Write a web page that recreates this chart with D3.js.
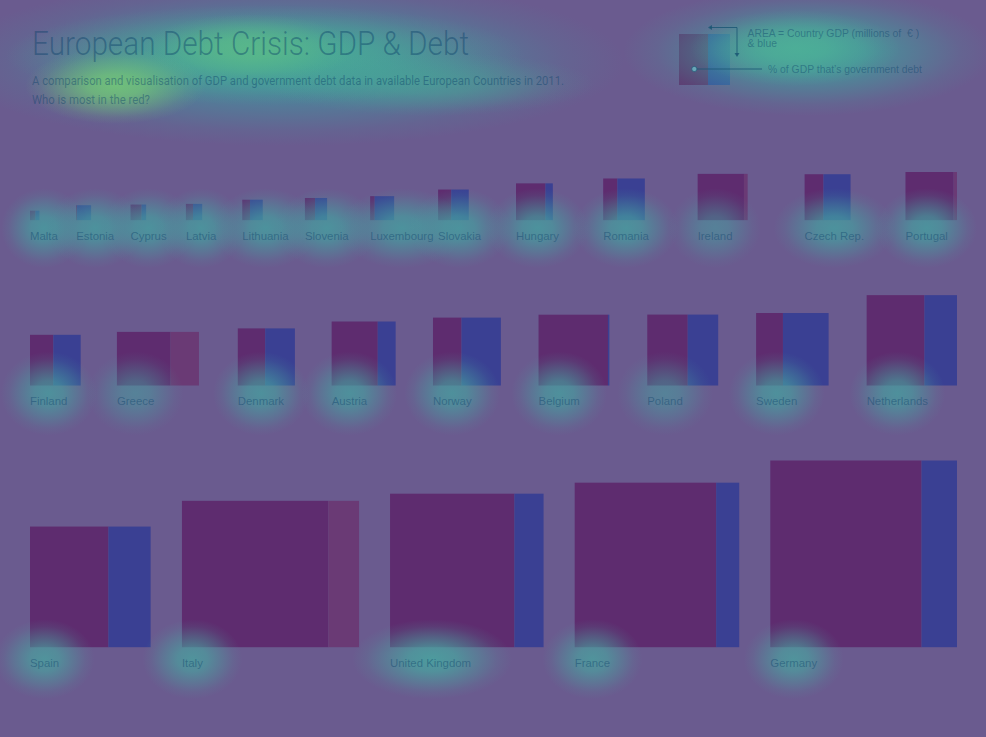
<!DOCTYPE html>
<html><head><meta charset="utf-8">
<script src="https://cdn.jsdelivr.net/npm/d3@7/dist/d3.min.js"></script>
<style>
html,body{margin:0;padding:0;background:#6a5b8f;}
svg{display:block;}
text{white-space:pre;}
</style></head>
<body>
<script>
// ---- data (2011) ----
const countries = ["Malta","Estonia","Cyprus","Latvia","Lithuania","Slovenia","Luxembourg","Slovakia","Hungary","Romania","Ireland","Czech Rep.","Portugal",
  "Finland","Greece","Denmark","Austria","Norway","Belgium","Poland","Sweden","Netherlands",
  "Spain","Italy","United Kingdom","France","Germany"];
const gdp = [6600,16400,17900,19500,30800,36200,42400,69100,99800,128000,158000,155500,171000,
  189500,212000,240500,302000,340000,369800,370900,387500,602100,
  1073400,1580200,1738000,1996600,2570800];            // millions of €
const debtPct = [58,6,71,44,38,46,19,43,80,34,108,41,107,
  46,153,48,72,42,98,57,37,64,
  65,121,81,86,81];                                    // % of GDP
const rowCounts = [13,9,5];
const titleText = "European Debt Crisis: GDP & Debt";
const subtitleLines = ["A comparison and visualisation of GDP and government debt data in available European Countries in 2011.","Who is most in the red?"];
const legendArea = ["AREA = Country GDP (millions of  € )","& blue"];
const legendDebt = "% of GDP that’s government debt";
const legendDebtPct = 57;

(function(){
// ---- styles ----
const W = 986, H = 737;
const C = {bg:"#6a5b8f", red:"#5e2c6f", over:"#6a3a75", blue:"#3a4093", text:"rgba(8,62,104,0.42)"};

const svg = d3.select("body").append("svg").attr("width",W).attr("height",H);
const defs = svg.append("defs");
svg.append("rect").attr("width",W).attr("height",H).attr("fill",C.bg);

const side = d3.scaleSqrt().domain([0,d3.max(gdp)]).range([0,186.7]);
const data = countries.map((c,i)=>({name:c,gdp:gdp[i],debt:debtPct[i],s:side(gdp[i])}));
data.forEach(d=>{d.w=d.s*Math.max(1,d.debt/100);});

// rows
const rows=[]; let k=0;
rowCounts.forEach(n=>{rows.push(data.slice(k,k+n)); k+=n;});
const x0=30, x1=957, gap=32, rowGap=75;
let rowTop=172;
rows.forEach(row=>{
  const maxS=d3.max(row,d=>d.s);
  const bottom=rowTop+maxS;
  const last=row[row.length-1];
  const sumW=d3.sum(row.slice(0,-1),d=>d.w);
  const f=(x1-x0-last.w-gap*(row.length-1))/sumW;
  let x=x0;
  row.forEach(d=>{d.x=x; d.bottom=bottom; x+=f*d.w+gap;});
  rowTop=bottom+rowGap;
});

// chart layer
const g = svg.append("g");
const cells = g.selectAll("g.c").data(data).join("g").attr("class","c");
const redW = d=>Math.min(d.debt,100)/100*d.s;
cells.append("rect").attr("x",d=>d.x).attr("y",d=>d.bottom-d.s).attr("width",redW).attr("height",d=>d.s).attr("fill",C.red);
cells.filter(d=>d.debt<100).append("rect").attr("x",d=>d.x+redW(d)).attr("y",d=>d.bottom-d.s)
  .attr("width",d=>(100-d.debt)/100*d.s).attr("height",d=>d.s).attr("fill",C.blue);
cells.filter(d=>d.debt>100).append("rect").attr("x",d=>d.x+d.s).attr("y",d=>d.bottom-d.s)
  .attr("width",d=>(d.debt-100)/100*d.s).attr("height",d=>d.s).attr("fill",C.over);

// legend square
const lg = svg.append("g");
const lS=51, lx=679, ly=34;
lg.append("rect").attr("x",lx).attr("y",ly).attr("width",lS*legendDebtPct/100).attr("height",lS).attr("fill","#60346f");
lg.append("rect").attr("x",lx+lS*legendDebtPct/100).attr("y",ly).attr("width",lS*(100-legendDebtPct)/100).attr("height",lS).attr("fill","#3a4c9c");

// glow layer (heat overlay)
const glowColors = {};
function grad(color){
  if(glowColors[color]) return glowColors[color];
  const id="g"+Object.keys(glowColors).length;
  const rg=defs.append("radialGradient").attr("id",id);
  [[0,1],[30,0.85],[60,0.45],[82,0.15],[100,0]].forEach(([o,a])=>
    rg.append("stop").attr("offset",o+"%").attr("stop-color",color).attr("stop-opacity",a));
  glowColors[color]="url(#"+id+")";
  return glowColors[color];
}
const glow = svg.append("g");
function addGlow(cx,cy,rx,ry,color,op){
  glow.append("ellipse").attr("cx",cx).attr("cy",cy).attr("rx",rx).attr("ry",ry).attr("fill",grad(color)).attr("opacity",op);
}
// title glows
addGlow(285,62,340,84,"#3f98a0",0.9);
addGlow(265,55,260,50,"#4aae94",0.85);
addGlow(115,86,90,38,"#74ca76",0.85);
addGlow(250,48,105,34,"#5ebd86",0.7);
addGlow(430,84,165,32,"#46aa96",0.55);
// legend glows
addGlow(808,52,185,64,"#3ea29e",0.9);
addGlow(795,48,105,38,"#4fb396",0.8);

// labels (measure)
const font="'Liberation Sans',Arial,sans-serif";
const meas = g.selectAll("text.m").data(data).join("text").attr("class","m")
  .attr("font-family",font).attr("font-size",11.4).text(d=>d.name);
meas.each(function(d){d.lw=this.getComputedTextLength();});
meas.remove();

rows.forEach((row,r)=>row.forEach(d=>{
  const cx = d.x + Math.min(d.lw/2,32);
  if(r===0){ addGlow(d.x+d.lw/2, d.bottom+8, Math.max(d.lw,30)*0.6+25, 40, "#45a0a0", d.name==="Ireland"?0.55:0.8); }
  else if(r===1){ addGlow(cx, d.bottom+8, 48, 42, "#45a2a0", d.name==="Greece"||d.name==="Poland"?0.55:0.75); }
  else { const uk=d.name==="United Kingdom"; addGlow(cx+(uk?10:0), d.bottom+12, uk?80:50, 40, "#48a6a0", uk?0.85:0.75); }
}));

// text layer
const tg = svg.append("g").attr("fill",C.text);
tg.selectAll("text.lab").data(data).join("text").attr("class","lab")
  .attr("x",d=>d.x).attr("y",d=>d.bottom+19.5)
  .attr("font-family",font).attr("font-size",11.4)
  .text(d=>d.name);

tg.append("text").attr("x",32).attr("y",55).attr("font-family","Roboto, 'Open Sans', sans-serif").attr("font-weight",300)
  .attr("font-size",34).attr("textLength",437).attr("lengthAdjust","spacingAndGlyphs").text(titleText);
const subLens=[532,118];
subtitleLines.forEach((t,i)=>{
  tg.append("text").attr("x",32).attr("y",84.5+i*19).attr("font-family","Roboto, 'Open Sans', sans-serif").attr("font-weight",400)
    .attr("font-size",12.6).attr("textLength",subLens[i]).attr("lengthAdjust","spacingAndGlyphs").text(t);
});

// legend annotation
const la = svg.append("g");
const lc="rgba(25,85,115,0.8)";
la.append("path").attr("d","M737,55 L737,27.5 L710,27.5").attr("fill","none").attr("stroke",lc).attr("stroke-width",1);
la.append("path").attr("d","M708,27.5 l4,-2.5 l0,5 z").attr("fill",lc);
la.append("path").attr("d","M737,57 l-2.5,-4 l5,0 z").attr("fill",lc);
la.append("line").attr("x1",696).attr("x2",762).attr("y1",69).attr("y2",69).attr("stroke",lc).attr("stroke-width",1);
la.append("circle").attr("cx",694.3).attr("cy",69).attr("r",2.6).attr("fill","#6aa6b8").attr("stroke",lc).attr("stroke-width",0.8);
legendArea.forEach((t,i)=>{
  la.append("text").attr("x",747.5).attr("y",36.5+i*10).attr("fill",C.text)
    .attr("font-family",font).attr("font-size",10.4).text(t);
});
la.append("text").attr("x",768).attr("y",72.5).attr("fill",C.text)
  .attr("font-family",font).attr("font-size",10.4)
  .attr("textLength",154).attr("lengthAdjust","spacingAndGlyphs").text(legendDebt);
})();
</script>
</body></html>
